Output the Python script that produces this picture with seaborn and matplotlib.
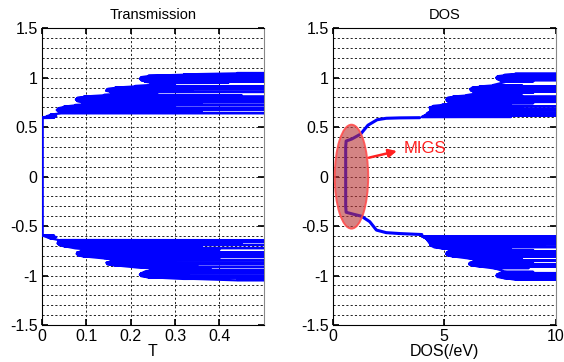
import numpy as np
import pandas as pd
import matplotlib
matplotlib.use("Agg")
import matplotlib.pyplot as plt
from matplotlib.patches import Ellipse
import seaborn as sns

sns.set_theme(style="white")
plt.rcParams['font.family'] = ['Liberation Sans', 'DejaVu Sans']

# ---------------- data ----------------
# Transmission: resonance spikes (energy, peak T, envelope/base T)
tr_up_E    = [0.594, 0.610, 0.626,
              0.642, 0.658, 0.674, 0.690, 0.706, 0.722,
              0.738, 0.752, 0.766, 0.780, 0.794, 0.808, 0.824,
              0.842, 0.856, 0.870, 0.884, 0.898, 0.914,
              0.932, 0.948, 0.962, 0.976, 0.990, 1.004, 1.018, 1.032, 1.046]
tr_up_peak = [0.028, 0.033, 0.030,
              0.90, 0.36, 0.90, 0.90, 0.30, 0.90,
              0.36, 0.90, 0.18, 0.90, 0.34, 0.90, 0.45,
              0.26, 0.90, 0.34, 0.90, 0.60, 0.90,
              0.30, 0.42, 0.90, 0.32, 0.90, 0.40, 0.90, 0.60, 0.90]
tr_up_base = [0.000, 0.012, 0.020,
              0.045, 0.038, 0.034, 0.038, 0.050, 0.075,
              0.120, 0.090, 0.080, 0.077, 0.080, 0.095, 0.140,
              0.185, 0.155, 0.145, 0.148, 0.165, 0.210,
              0.260, 0.245, 0.232, 0.224, 0.221, 0.224, 0.240, 0.320, 0.440]

tr_lo_E    = [-0.594, -0.610, -0.626,
              -0.642, -0.658, -0.674, -0.690, -0.706, -0.722,
              -0.738, -0.752, -0.766, -0.780, -0.794, -0.808, -0.824,
              -0.842, -0.856, -0.870, -0.884, -0.898, -0.914,
              -0.932, -0.948, -0.962, -0.976, -0.990, -1.004, -1.018, -1.032, -1.046]
tr_lo_peak = [0.028, 0.033, 0.030,
              0.90, 0.90, 0.45, 0.90, 0.36, 0.90,
              0.40, 0.30, 0.90, 0.90, 0.34, 0.90, 0.40,
              0.90, 0.30, 0.90, 0.90, 0.35, 0.90,
              0.38, 0.60, 0.90, 0.90, 0.33, 0.90, 0.90, 0.42, 0.90]
tr_lo_base = [0.000, 0.012, 0.020,
              0.042, 0.037, 0.036, 0.040, 0.052, 0.075,
              0.120, 0.090, 0.080, 0.079, 0.082, 0.095, 0.140,
              0.185, 0.155, 0.146, 0.148, 0.165, 0.210,
              0.260, 0.245, 0.232, 0.224, 0.221, 0.224, 0.240, 0.320, 0.440]

# transmission inside the gap (T, E)
tr_gap_T = [0.0, 0.0]
tr_gap_E = [-0.592, 0.592]

# DOS: smooth gap part (DOS, E) and band spikes (energy, peak DOS, base DOS)
dos_gap_D = [4.0, 3.0, 2.4, 1.96, 1.66, 1.29, 0.85, 0.60, 0.58, 0.58, 0.60, 0.85, 1.25, 1.58, 1.99, 2.4, 3.0, 3.9]
dos_gap_E = [-0.585, -0.575, -0.566, -0.54, -0.455, -0.40, -0.375, -0.36, -0.30, 0.30, 0.36, 0.38, 0.43,
             0.52, 0.575, 0.59, 0.594, 0.596]

dos_up_E    = [0.603, 0.615, 0.628,
               0.642, 0.656, 0.670, 0.684, 0.698, 0.712, 0.725,
               0.742, 0.755, 0.768, 0.781, 0.794, 0.808, 0.822,
               0.848, 0.860, 0.872, 0.884, 0.897, 0.910, 0.924,
               0.962, 0.975, 0.988, 1.000, 1.013, 1.026, 1.040]
dos_up_peak = [8.0, 12, 12,
               12, 9.0, 12, 12, 8.5, 12, 8.0,
               9.0, 12, 9.5, 12, 8.0, 12, 8.5,
               9.0, 12, 8.8, 12, 9.0, 12, 8.5,
               9.0, 12, 9.0, 12, 8.8, 12, 12]
dos_up_base = [4.0, 4.1, 4.2,
               4.25, 4.35, 4.4, 4.37, 4.35, 4.5, 4.9,
               5.6, 5.2, 5.12, 5.1, 5.15, 5.4, 6.0,
               6.6, 6.3, 6.2, 6.17, 6.25, 6.6, 7.2,
               7.8, 7.5, 7.38, 7.34, 7.4, 7.7, 8.2]

dos_lo_E    = [-0.603, -0.615, -0.628,
               -0.642, -0.656, -0.670, -0.684, -0.698, -0.712, -0.725,
               -0.742, -0.755, -0.768, -0.781, -0.794, -0.808, -0.822,
               -0.848, -0.860, -0.872, -0.884, -0.897, -0.910, -0.924,
               -0.962, -0.975, -0.988, -1.000, -1.013, -1.026, -1.040]
dos_lo_peak = [12, 12, 9.0,
               12, 12, 8.0, 12, 9.5, 12, 8.0,
               9.0, 12, 8.0, 12, 9.0, 12, 8.5,
               12, 9.0, 8.5, 12, 9.8, 12, 8.8,
               9.0, 12, 9.0, 12, 8.8, 12, 12]
dos_lo_base = [4.0, 4.1, 4.2,
               4.25, 4.3, 4.35, 4.37, 4.4, 4.55, 4.9,
               5.6, 5.2, 5.12, 5.1, 5.15, 5.4, 6.0,
               6.6, 6.3, 6.15, 6.12, 6.25, 6.6, 7.2,
               7.8, 7.5, 7.38, 7.35, 7.4, 7.7, 8.2]

y_ticks = [-1.5, -1, -0.5, 0, 0.5, 1, 1.5]
y_ticklabels = ["-1.5", "-1", "-0.5", "0", "0.5", "1", "1.5"]
t_ticks = [0, 0.1, 0.2, 0.3, 0.4]
t_ticklabels = ["0", "0.1", "0.2", "0.3", "0.4"]
d_ticks = [0, 5, 10]
d_ticklabels = ["0", "5", "10"]


def spikes(E, peak, base, d=0.002):
    xs, ys = [], []
    for e, p, b in zip(E, peak, base):
        xs += [b, p, b]
        ys += [e - d, e, e + d]
    return xs, ys


# band paths (upper and lower separately)
tr_bands = []
for E, P, B in [(tr_lo_E, tr_lo_peak, tr_lo_base), (tr_up_E, tr_up_peak, tr_up_base)]:
    x, y = spikes(E, P, B)
    tr_bands.append(pd.DataFrame({"T": x, "E": y}))
dos_bands = []
for E, P, B in [(dos_lo_E, dos_lo_peak, dos_lo_base), (dos_up_E, dos_up_peak, dos_up_base)]:
    x, y = spikes(E, P, B)
    dos_bands.append(pd.DataFrame({"DOS": x, "E": y}))
df_tr_gap = pd.DataFrame({"T": tr_gap_T, "E": tr_gap_E})
df_dos_gap = pd.DataFrame({"DOS": dos_gap_D, "E": dos_gap_E})

# ---------------- figure ----------------
fig = plt.figure(figsize=(5.64, 3.62), dpi=100)
ax1 = fig.add_axes([0.0739, 0.102, 0.394, 0.820])
ax2 = fig.add_axes([0.590, 0.102, 0.395, 0.820])

line_kw = dict(estimator=None, sort=False, color="#0000ff", legend=False, zorder=3)
for df in tr_bands:
    sns.lineplot(data=df, x="T", y="E", ax=ax1, linewidth=1.6, **line_kw)
sns.lineplot(data=df_tr_gap, x="T", y="E", ax=ax1, linewidth=2.6, **line_kw)
for df in dos_bands:
    sns.lineplot(data=df, x="DOS", y="E", ax=ax2, linewidth=1.6, **line_kw)
sns.lineplot(data=df_dos_gap, x="DOS", y="E", ax=ax2, linewidth=2.2, **line_kw)

grid_kw = dict(color="#222222", linestyle=(0, (2.2, 2.2)), linewidth=0.7)
for ax, xt, xtl, xlim, xlabel, title in [
        (ax1, t_ticks, t_ticklabels, (0, 0.5), "T", "Transmission"),
        (ax2, d_ticks, d_ticklabels, (0, 10), "DOS(/eV)", "DOS")]:
    ax.set_xlim(*xlim)
    ax.set_ylim(-1.5, 1.5)
    ax.set_xticks(xt)
    ax.set_xticklabels(xtl)
    ax.set_yticks(y_ticks)
    ax.set_yticklabels(y_ticklabels)
    ax.set_yticks(np.round(np.arange(-1.4, 1.45, 0.1), 2), minor=True)
    ax.grid(True, which="major", axis="x", **grid_kw)
    ax.grid(True, which="both", axis="y", **grid_kw)
    ax.tick_params(axis="both", which="major", direction="in", length=4, labelsize=11.5,
                   colors="black", pad=3, left=True, bottom=True, top=True, right=True)
    ax.tick_params(axis="both", which="minor", length=0)
    ax.set_xlabel(xlabel, fontsize=11.5, labelpad=0, color="black")
    ax.set_ylabel("")
    ax.set_title(title, fontsize=10.5, pad=7, color="black")
    for s in ax.spines.values():
        s.set_color("black")
        s.set_linewidth(0.8)
    ax.spines["right"].set_color("#888888")
    ax.set_axisbelow(True)

# MIGS annotation
ell = Ellipse((0.84, 0.0), width=1.5, height=1.05, angle=0,
              facecolor=(0.72, 0.2, 0.2, 0.6), edgecolor=(1.0, 0.3, 0.3, 0.9),
              linewidth=1.4, zorder=5)
ax2.add_patch(ell)
ax2.annotate("", xy=(3.0, 0.265), xytext=(1.5, 0.185),
             arrowprops=dict(arrowstyle="-|>", color="#ff2020", lw=1.8, mutation_scale=12),
             zorder=6)
ax2.text(3.2, 0.28, "MIGS", color="#ff2020", fontsize=12, va="center", ha="left", zorder=6)

fig.savefig("out.png", dpi=100)
